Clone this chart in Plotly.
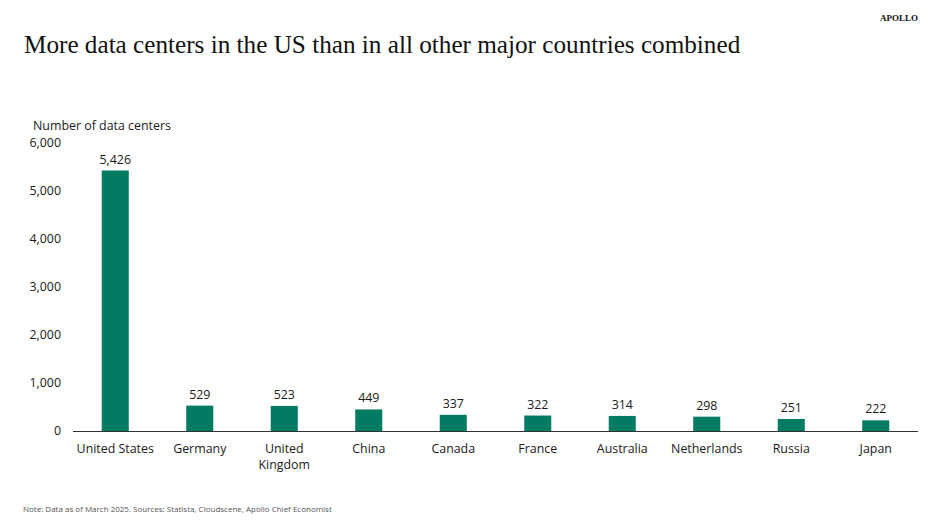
import plotly.graph_objects as go

countries = ["United States", "Germany", "United<br>Kingdom", "China", "Canada",
             "France", "Australia", "Netherlands", "Russia", "Japan"]
data_centers = [5426, 529, 523, 449, 337, 322, 314, 298, 251, 222]
y_ticks = [0, 1000, 2000, 3000, 4000, 5000, 6000]

axis_font = dict(family="Open Sans, Liberation Sans, sans-serif", size=12.4, color="#1a1a1a")

fig = go.Figure(go.Bar(
    x=countries,
    y=data_centers,
    marker=dict(color="#027B63", line=dict(width=0)),
    text=[f"{v:,}" for v in data_centers],
    textposition="outside",
    textfont=axis_font,
    constraintext="none",
    cliponaxis=False,
))

# the page sits 8px in from the window corner, so margins are shifted to suit
fig.update_layout(
    width=939, height=528,
    margin=dict(l=65, r=29, t=135, b=105),
    plot_bgcolor="white", paper_bgcolor="white",
    bargap=0.68,
    showlegend=False,
    font=axis_font,
)
fig.update_xaxes(
    showline=True, linecolor="#333333", linewidth=1,
    ticks="", tickfont=axis_font, showgrid=False, ticklabelstandoff=6,
)
fig.update_yaxes(
    range=[0, 6000], tickvals=y_ticks, tickformat=",",
    showgrid=False, zeroline=False, showline=False,
    tickfont=axis_font, ticklabelstandoff=11,
)

# titles and notes
fig.add_annotation(
    text="More data centers in the US than in all other major countries combined",
    xref="paper", yref="paper", x=-0.0604, y=1.0, yshift=99,
    xanchor="left", yanchor="middle", showarrow=False,
    font=dict(family="Liberation Serif, serif", size=25.2, color="#111111"),
)
fig.add_annotation(
    text="<b>APOLLO</b>", xref="paper", yref="paper", x=1.0024, y=1.0, yshift=125,
    xanchor="right", yanchor="middle", showarrow=False,
    font=dict(family="Liberation Serif, serif", size=9, color="#111111"),
)
fig.add_annotation(
    text="Number of data centers", xref="paper", yref="paper", x=-0.0497, y=1.0, yshift=18,
    xanchor="left", yanchor="middle", showarrow=False, font=axis_font,
)
fig.add_annotation(
    text="Note: Data as of March 2025. Sources: Statista, Cloudscene, Apollo Chief Economist",
    xref="paper", yref="paper", x=-0.0615, y=0, yshift=-77,
    xanchor="left", yanchor="middle", showarrow=False,
    font=dict(family="Open Sans, Liberation Sans, sans-serif", size=8, color="#555555"),
)

fig.write_html("out.html")
